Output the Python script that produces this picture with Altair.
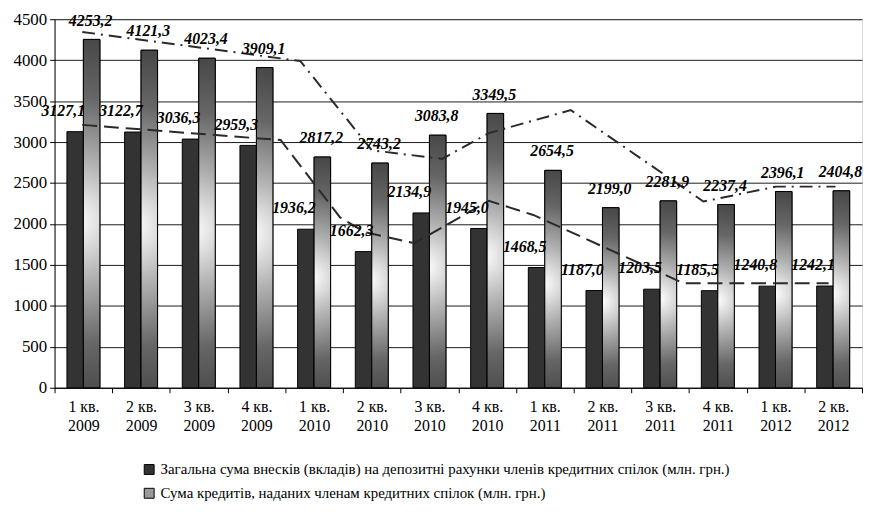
import altair as alt
import pandas as pd

quarters = ["1 кв. 2009", "2 кв. 2009", "3 кв. 2009", "4 кв. 2009",
            "1 кв. 2010", "2 кв. 2010", "3 кв. 2010", "4 кв. 2010",
            "1 кв. 2011", "2 кв. 2011", "3 кв. 2011", "4 кв. 2011",
            "1 кв. 2012", "2 кв. 2012"]
deposits = [3127.1, 3122.7, 3036.3, 2959.3, 1936.2, 1662.3, 2134.9, 1945.0,
            1468.5, 1187.0, 1203.5, 1185.5, 1240.8, 1242.1]
credits = [4253.2, 4121.3, 4023.4, 3909.1, 2817.2, 2743.2, 3083.8, 3349.5,
           2654.5, 2199.0, 2281.9, 2237.4, 2396.1, 2404.8]
dep_name = "Загальна сума внесків (вкладів) на депозитні рахунки членів кредитних спілок (млн. грн.)"
cred_name = "Сума кредитів, наданих членам кредитних спілок (млн. грн.)"

# hand-drawn trend lines (position in category units 0..14, value)
credit_trend_pos = [0.48, 4.26, 5.5, 6.72, 7.53, 8.95, 11.25, 12.51, 13.54]
credit_trend_val = [4345, 3990, 2900, 2795, 3110, 3390, 2274, 2456, 2456]
dep_trend_pos = [0.48, 3.92, 4.95, 5.38, 6.24, 7.53, 8.30, 10.91, 13.42]
dep_trend_val = [3210, 3025, 2080, 1900, 1766, 2282, 2110, 1275, 1275]

FONT = "Liberation Serif"

def fmt(v):
    return f"{v:.1f}".replace(".", ",")

rows = []
for q, d, c in zip(quarters, deposits, credits):
    rows.append({"quarter": q, "series": dep_name, "value": d, "label": fmt(d)})
    rows.append({"quarter": q, "series": cred_name, "value": c, "label": fmt(c)})
df = pd.DataFrame(rows)

trend_df = pd.concat([
    pd.DataFrame({"pos": credit_trend_pos, "value": credit_trend_val, "kind": "credit"}),
    pd.DataFrame({"pos": dep_trend_pos, "value": dep_trend_val, "kind": "dep"}),
])

x_scale = alt.Scale(domain=quarters, paddingInner=0, paddingOuter=0)
x_enc = alt.X("quarter:N", sort=quarters, scale=x_scale,
              axis=alt.Axis(title=None, labelAngle=0, tickBand="extent",
                            labelExpr="[slice(datum.label,0,5), slice(datum.label,6)]",
                            labelFont=FONT, labelFontSize=16, labelColor="black",
                            labelLineHeight=19, labelPadding=6, tickSize=5,
                            tickColor="black", domainColor="black", grid=False))
x_enc_noaxis = alt.X("quarter:N", sort=quarters, scale=x_scale, axis=None)
xo_enc = alt.XOffset("series:N",
                     scale=alt.Scale(domain=[dep_name, cred_name], paddingInner=0, paddingOuter=0.75))
y_axis = alt.Axis(title=None, values=list(range(0, 4501, 500)), format="d",
                  labelFont=FONT, labelFontSize=17, labelColor="black",
                  labelPadding=3, tickSize=5, tickColor="black",
                  domainColor="black", grid=True, gridColor="#1a1a1a",
                  gridWidth=1)
y_scale = alt.Scale(domain=[0, 4500], nice=False)
y_enc = alt.Y("value:Q", scale=y_scale, axis=y_axis)

bars = alt.Chart(df).mark_bar(stroke="black", strokeWidth=1).encode(
    x=x_enc, xOffset=xo_enc, y=y_enc,
    color=alt.Color("series:N",
                    scale=alt.Scale(domain=[dep_name, cred_name], range=["#333333", "#9a9a9a"]),
                    legend=alt.Legend(title=None, orient="none", legendX=88, legendY=447,
                                      direction="vertical", symbolType="square",
                                      symbolSize=100, symbolStrokeColor="black",
                                      symbolStrokeWidth=1, labelFont=FONT,
                                      labelFontSize=15, labelColor="black",
                                      labelOffset=4,
                                      labelLimit=900, rowPadding=8, padding=0))
)

grad = {
    "gradient": "radial",
    "x1": 0.45, "y1": 0.52, "r1": 0,
    "x2": 0.45, "y2": 0.52, "r2": 0.55,
    "stops": [
        {"offset": 0, "color": "#ffffff"},
        {"offset": 0.3, "color": "#b4b4b4"},
        {"offset": 0.65, "color": "#666666"},
        {"offset": 1, "color": "#424242"},
    ],
}

grad_bars = alt.Chart(df).transform_filter(
    alt.datum.series == cred_name
).mark_bar(fill=grad, stroke="black", strokeWidth=1).encode(
    x=x_enc, xOffset=xo_enc, y=y_enc
)

dep_labels = alt.Chart(df).transform_filter(
    alt.datum.series == dep_name
).mark_text(font=FONT, fontSize=16, fontWeight="bold", fontStyle="italic",
            color="black", baseline="middle", dx=-12, dy=-21).encode(
    x=x_enc_noaxis, xOffset=xo_enc, y=y_enc, text="label:N"
)

cred_labels = alt.Chart(df).transform_filter(
    alt.datum.series == cred_name
).mark_text(font=FONT, fontSize=16, fontWeight="bold", fontStyle="italic",
            color="black", baseline="middle", dx=-1, dy=-19).encode(
    x=x_enc_noaxis, xOffset=xo_enc, y=y_enc, text="label:N"
)

xq = alt.X("pos:Q", scale=alt.Scale(domain=[0, 14], nice=False, zero=False), axis=None)

credit_line = alt.Chart(trend_df).transform_filter(
    alt.datum.kind == "credit"
).mark_line(color="#2a2a2a", strokeWidth=2, strokeDash=[13, 6, 2, 6]).encode(
    x=xq, y=y_enc, order="pos:Q"
)
dep_line = alt.Chart(trend_df).transform_filter(
    alt.datum.kind == "dep"
).mark_line(color="#2a2a2a", strokeWidth=2, strokeDash=[15, 7]).encode(
    x=xq, y=y_enc, order="pos:Q"
)

bar_layer = alt.layer(bars, grad_bars)
line_layer = alt.layer(dep_line, credit_line)
label_layer = alt.layer(dep_labels, cred_labels)

chart = alt.layer(bar_layer, line_layer, label_layer).resolve_scale(
    x="independent"
).properties(
    width=815, height=372,
    padding={"left": 5, "top": 0, "right": 0, "bottom": 0},
).configure_view(stroke="#888888").configure(background="white").configure_legend(
    labelFont=FONT
).configure_axis(labelFont=FONT)

chart.save("out.html", embed_options={"renderer": "svg", "actions": False})
